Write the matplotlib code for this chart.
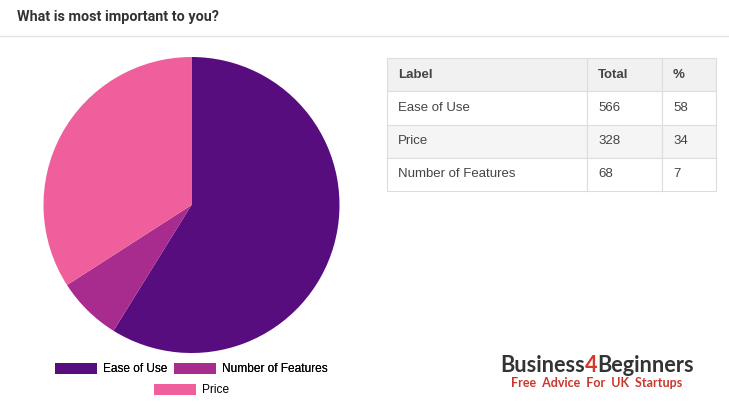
import matplotlib
matplotlib.use("Agg")
import matplotlib.pyplot as plt
from matplotlib.patches import Patch

# data
labels = ["Ease of Use", "Number of Features", "Price"]
totals = [566, 68, 328]
colors = ["#570d7e", "#a82c8e", "#ef5f9c"]

table_header = ["Label", "Total", "%"]
table_labels = ["Ease of Use", "Price", "Number of Features"]
table_totals = [566, 328, 68]
table_pct = [58, 34, 7]

W, H = 729, 419
fig = plt.figure(figsize=(W / 100, H / 100), dpi=100)
fig.patch.set_facecolor("white")

def fx(px):
    return px / W

def fy(py):
    return 1 - py / H

# title and separator
fig.text(fx(17), fy(17), "What is most important to you?", family="Roboto",
         fontweight="bold", fontsize=10.4, color="#333333", va="center", ha="left")
fig.add_artist(plt.Line2D([0, 1], [fy(36), fy(36)], color="#e3e3e3", lw=1))

# pie
cx, cy, r = 191.5, 205, 148
ax = fig.add_axes([fx(cx - r), fy(cy + r), 2 * r / W, 2 * r / H])
ax.pie(totals, colors=colors, startangle=90, counterclock=False, radius=1,
       wedgeprops=dict(linewidth=0))
ax.set_xlim(-1, 1)
ax.set_ylim(-1, 1)
ax.set_aspect("auto")
ax.axis("off")

# legend: two rows, filled row by row and centred
handles = [Patch(facecolor=c, edgecolor="none") for c in colors]
leg_kw = dict(loc="center", frameon=False, prop=dict(family="Liberation Sans", size=8.6),
              handlelength=3.5, handleheight=1.05, handletextpad=0.5,
              columnspacing=0.6, borderpad=0, borderaxespad=0)
leg1 = fig.legend(handles[:2], labels[:2], bbox_to_anchor=(fx(191.5), fy(369)),
                  ncol=2, **leg_kw)
fig.add_artist(leg1)
fig.legend(handles[2:], labels[2:], bbox_to_anchor=(fx(191.5), fy(390)), ncol=1,
           **leg_kw)

# table
tx0, tx1, ty0, ty1 = 387, 716, 58, 191
tax = fig.add_axes([fx(tx0), fy(ty1), (tx1 - tx0) / W, (ty1 - ty0) / H])
tax.axis("off")
rows = [[l, str(t), str(p)] for l, t, p in zip(table_labels, table_totals, table_pct)]
col_px = [200, 75, 54]
tbl = tax.table(cellText=rows, colLabels=table_header, cellLoc="left", colLoc="left",
                colWidths=[c / sum(col_px) for c in col_px], bbox=[0, 0, 1, 1])
tbl.auto_set_font_size(False)
for (i, j), cell in tbl.get_celld().items():
    cell.set_edgecolor("#dddddd")
    cell.set_linewidth(0.8)
    cell.PAD = 11 / col_px[j]
    txt = cell.get_text()
    txt.set_fontsize(9.5)
    txt.set_family("Liberation Sans")
    txt.set_color("#444444")
    if i == 0:
        cell.set_facecolor("#f1f1f1")
        txt.set_fontweight("bold")
    elif i % 2 == 0:
        cell.set_facecolor("#f5f5f5")
    else:
        cell.set_facecolor("white")

# logo
base = fy(372)
t1 = fig.text(fx(500), base, "Business", family="Lato", fontweight="bold",
              fontsize=15.6, color="#333333", va="baseline", ha="left")
t2 = fig.text(0, 0, "4", family="Lato", fontweight="bold", fontsize=15.6,
              color="#d03a2c", va="baseline", ha="left")
t3 = fig.text(0, 0, "Beginners", family="Lato", fontweight="bold", fontsize=15.6,
              color="#333333", va="baseline", ha="left")
fig.canvas.draw()
rend = fig.canvas.get_renderer()
bb = t1.get_window_extent(rend)
t2.set_position((bb.x1 / W, base))
bb = t2.get_window_extent(rend)
t3.set_position((bb.x1 / W, base))
fig.text(fx(597), fy(383), "Free  Advice  For  UK  Startups", family="Lato",
         fontweight="bold", fontsize=9, color="#c8372d", va="center", ha="center")

fig.savefig("out.png", dpi=100)
